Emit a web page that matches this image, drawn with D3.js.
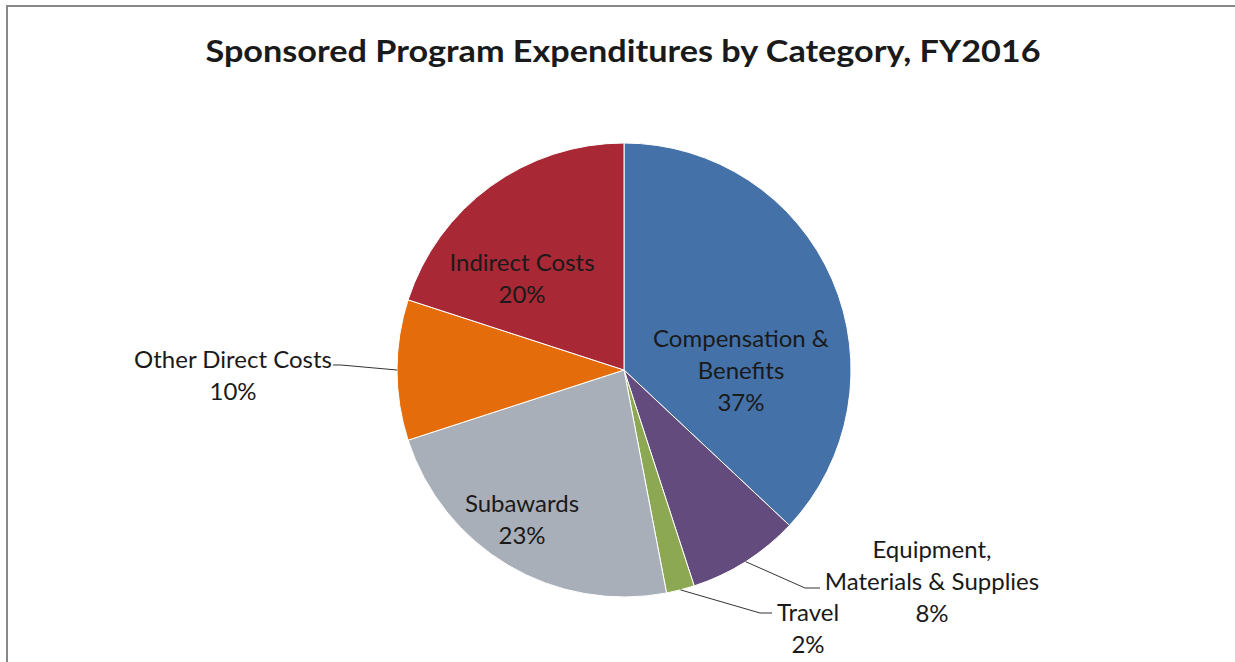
<!DOCTYPE html>
<html lang="en">
  <head>
    <meta charset="UTF-8" />
    <title>Sponsored Program Expenditures by Category, FY2016</title>
    <style>
      body { margin: 0; background: #fff; }
      svg { display: block; }
      text { font-family: Lato, "Open Sans", sans-serif; fill: #1a1a1a; }
    </style>
  </head>
  <body>
    <svg width="1235" height="662"></svg>

    <script src="https://d3js.org/d3.v7.min.js"></script>
    <script>
      // data, clockwise from 12 o'clock
      const categories = [
        "Compensation & Benefits",
        "Equipment, Materials & Supplies",
        "Travel",
        "Subawards",
        "Other Direct Costs",
        "Indirect Costs",
      ];
      const shares = [37, 8, 2, 23, 10, 20];
      const labelLines = [
        ["Compensation &", "Benefits"],
        ["Equipment,", "Materials & Supplies"],
        ["Travel"],
        ["Subawards"],
        ["Other Direct Costs"],
        ["Indirect Costs"],
      ];
      const colors = ["#4472a8", "#634b7d", "#8da852", "#a9afb8", "#e46c0a", "#a82835"];

      // label placement (pixel offsets from pie centre), null = no leader
      const layout = [
        { dx: 117, dy: -33, leader: null },
        { dx: 308, dy: 178, leader: [[181, 218], [196, 218]] },
        { dx: 184, dy: 241, leader: [[136, 243], [148, 243]] },
        { dx: -102, dy: 132, leader: null },
        { dx: -391, dy: -12, leader: [[-283, -5], [-291, -5]] },
        { dx: -102, dy: -109, leader: null },
      ];

      const svg = d3.select("svg");
      const cx = 624, cy = 370, r = 227;
      const lineH = 32;

      // chart frame (cropped: only top and left visible)
      svg.append("path")
        .attr("d", "M7,662V6H1235")
        .attr("fill", "none")
        .attr("stroke", "#888")
        .attr("stroke-width", 2);

      svg.append("text")
        .attr("x", 623)
        .attr("y", 62)
        .attr("text-anchor", "middle")
        .attr("font-size", 30)
        .attr("font-weight", "bold")
        .attr("textLength", 835)
        .attr("lengthAdjust", "spacingAndGlyphs")
        .text("Sponsored Program  Expenditures by Category, FY2016");

      const data = categories.map((c, i) => ({
        name: c,
        value: shares[i],
        color: colors[i],
        lines: labelLines[i],
        pos: layout[i],
      }));

      const pie = d3.pie().sort(null).value((d) => d.value);
      const arc = d3.arc().innerRadius(0).outerRadius(r);
      const arcs = pie(data);

      const g = svg.append("g").attr("transform", `translate(${cx},${cy})`);

      g.selectAll("path.slice")
        .data(arcs)
        .join("path")
        .attr("class", "slice")
        .attr("d", arc)
        .attr("fill", (d) => d.data.color)
        .attr("stroke", "#fff")
        .attr("stroke-width", 1);

      // leader lines
      g.selectAll("polyline")
        .data(arcs.filter((d) => d.data.pos.leader))
        .join("polyline")
        .attr("points", (d) => {
          const mid = (d.startAngle + d.endAngle) / 2;
          const start = [r * Math.sin(mid), -r * Math.cos(mid)];
          return [start, ...d.data.pos.leader].map((p) => p.join(",")).join(" ");
        })
        .attr("fill", "none")
        .attr("stroke", "#333")
        .attr("stroke-width", 1);

      // labels
      const labels = g.selectAll("text.lbl")
        .data(arcs)
        .join("text")
        .attr("class", "lbl")
        .attr("text-anchor", "middle")
        .attr("font-size", 24);

      labels.each(function (d) {
        const t = d3.select(this);
        const rows = [...d.data.lines, d.data.value + "%"];
        rows.forEach((row, i) => {
          t.append("tspan")
            .attr("x", d.data.pos.dx)
            .attr("y", d.data.pos.dy + i * lineH)
            .attr("dominant-baseline", "central")
            .text(row);
        });
      });
    </script>
  </body>
</html>
